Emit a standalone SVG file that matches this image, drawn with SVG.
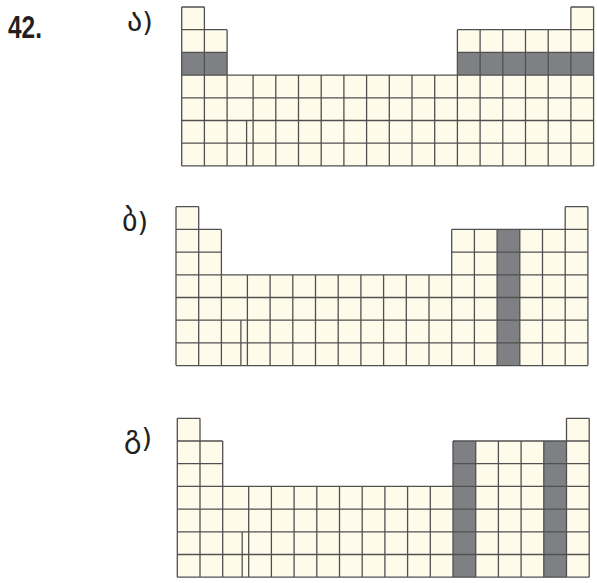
<svg xmlns="http://www.w3.org/2000/svg" xmlns:xlink="http://www.w3.org/1999/xlink" width="597" height="583" viewBox="0 0 597 583">
<style>
.shape{fill:#fffbeb;stroke:none}
.shade{fill:#7f8083;stroke:none}
.grid{fill:none;stroke:#505050;stroke-width:1.3}
.num{font-family:"Liberation Sans",Arial,sans-serif;font-weight:bold;font-size:31px;fill:#231f20}
.lbl{font-family:"DejaVu Sans","Noto Sans",sans-serif;font-size:30px;fill:#231f20}
.par{font-size:27px}
</style>
<defs>
<path id="shape" class="shape" d="M0,0 H22.7 V22.7 H45.4 V68.1 H275.7 V22.7 H389.2 V0 H411.9 V158.9 H0 Z"/>
<path id="grid" class="grid" d="M0,0 H22.7 M389.2,0 H411.9 M0,22.7 H45.4 M275.7,22.7 H411.9 M0,45.4 H45.4 M275.7,45.4 H411.9 M0,68.1 H411.9 M0,90.8 H411.9 M0,113.5 H411.9 M0,136.2 H411.9 M0,158.9 H411.9 M0,0 V158.9 M22.7,0 V158.9 M45.4,22.7 V158.9 M71.4,68.1 V158.9 M94.1,68.1 V158.9 M116.8,68.1 V158.9 M139.5,68.1 V158.9 M162.2,68.1 V158.9 M184.9,68.1 V158.9 M207.6,68.1 V158.9 M230.3,68.1 V158.9 M253,68.1 V158.9 M275.7,22.7 V158.9 M298.4,22.7 V158.9 M321.1,22.7 V158.9 M343.8,22.7 V158.9 M366.5,22.7 V158.9 M389.2,0 V158.9 M411.9,0 V158.9 M64.9,113.5 V158.9"/>
</defs>
<text class="num" x="8" y="38" textLength="34" lengthAdjust="spacingAndGlyphs">42.</text>
<g id="table-a" transform="translate(181.7,7)">
<use xlink:href="#shape"/>
<rect class="shade" x="0" y="45.4" width="45.4" height="22.7"/>
<rect class="shade" x="275.7" y="45.4" width="136.2" height="22.7"/>
<use xlink:href="#grid"/>
</g>
<text id="label-a" class="lbl" x="127" y="31">ა<tspan class="par">)</tspan></text>
<g id="table-b" transform="translate(176,206.7)">
<use xlink:href="#shape"/>
<rect class="shade" x="321.1" y="22.7" width="22.7" height="136.2"/>
<use xlink:href="#grid"/>
</g>
<text id="label-b" class="lbl" x="122" y="231">ბ<tspan class="par">)</tspan></text>
<g id="table-c" transform="translate(177.3,418.3)">
<use xlink:href="#shape"/>
<rect class="shade" x="275.7" y="22.7" width="22.7" height="136.2"/>
<rect class="shade" x="366.5" y="22.7" width="22.7" height="136.2"/>
<use xlink:href="#grid"/>
</g>
<text id="label-c" class="lbl" x="124" y="447">გ<tspan class="par">)</tspan></text>
</svg>
